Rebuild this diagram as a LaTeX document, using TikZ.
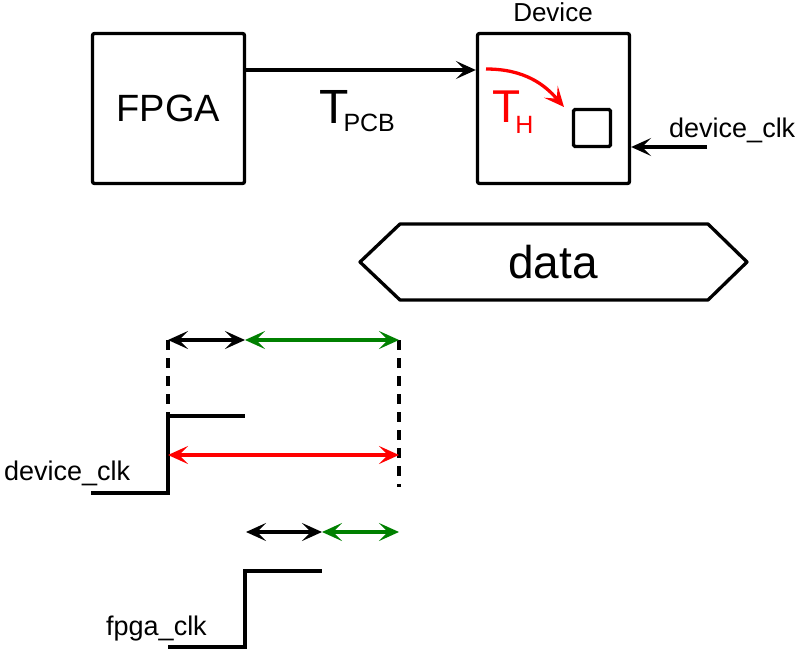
\documentclass[tikz,border=0pt]{standalone}
\usepackage{fontspec}
\setmainfont{Liberation Sans}
\usetikzlibrary{arrows.meta,calc}
\definecolor{dgreen}{RGB}{0,128,0}
\definecolor{pred}{RGB}{255,0,0}
\tikzset{
  wire/.style={line width=3.3pt},
  tip/.tip={Stealth[length=20pt,width=18pt,inset=9pt]},
  arr/.style={wire,-tip},
  darr/.style={wire,tip-tip},
  blockbox/.style={draw,line width=3.3pt,rounded corners=2pt,minimum width=152pt,minimum height=150pt,inner sep=0pt},
  dashline/.style={line width=3.3pt,dash pattern=on 10pt off 8pt},
  lbl/.style={inner sep=0pt,font=\fontsize{27}{27}\selectfont},
}
\begin{document}
\begin{tikzpicture}[x=1pt,y=-1pt]
\useasboundingbox (0,0) rectangle (800,650);
% blocks
\node[blockbox] (fpga) at (168.5,108.5) {\fontsize{38}{38}\selectfont FPGA};
\node[blockbox] (dev) at (553.5,108.5) {};
\node[inner sep=0pt,anchor=base,font=\fontsize{26}{26}\selectfont] (devlbl) at (553,22) {Device};
\node[draw,line width=3.3pt,rounded corners=1.5pt,minimum size=37pt,inner sep=0pt] (ff) at (592,128) {};
% PCB path
\coordinate (py) at (0,70);
\draw[arr] (fpga.east |- py) -- (dev.west |- py);
\node[inner sep=0pt,anchor=base west] (tpcb) at (319,124) {\fontsize{48}{48}\selectfont T\kern-5pt\raisebox{-8pt}{\fontsize{25}{25}\selectfont PCB}};
% device_clk input
\coordinate (dclkin) at (707,147);
\draw[arr] (dclkin) -- (dev.east |- dclkin);
\node[lbl,anchor=base west] (dclklbl) at (669,138) {device\_clk};
% T_H
\coordinate (ths) at (486,69);
\coordinate (the) at (564,107);
\draw[arr,pred] (ths) .. controls (525,69) and (545,85) .. (the);
\node[inner sep=0pt,anchor=base west,text=pred] (th) at (492,123) {\fontsize{46}{46}\selectfont T\kern-5pt\raisebox{-10pt}{\fontsize{25}{25}\selectfont H}};
% data hexagon
\coordinate (h1) at (360,262);
\coordinate (h2) at (400,224);
\coordinate (h3) at (708,224);
\coordinate (h4) at (747,262);
\coordinate (h5) at (708,300);
\coordinate (h6) at (400,300);
\draw[wire,line join=round] (h1) -- (h2) -- (h3) -- (h4) -- (h5) -- (h6) -- cycle;
\node[inner sep=0pt] (data) at (553,262) {\fontsize{46}{46}\selectfont data};
% timing: device clock
\coordinate (a0) at (91,493);
\coordinate (a1) at (168,493);
\coordinate (a2) at (168,416);
\coordinate (a3) at (245,416);
\draw[wire,line join=miter] (a0) -- (a1) -- (a2) -- (a3);
\node[lbl,anchor=base west] (dlbl) at (4,480) {device\_clk};
% dashed guides
\coordinate (t1) at (168,340);
\coordinate (t2) at (245,340);
\coordinate (t3) at (399,340);
\coordinate (r1) at (168,455);
\coordinate (r2) at (399,455);
\coordinate (db) at (399,487);
\draw[dashline] (t1) -- (a2);
\draw[dashline] (t3) -- (db);
\draw[darr] (t1) -- (t2);
\draw[darr,dgreen] (t2) -- (t3);
\draw[darr,pred] (r1) -- (r2);
% timing: fpga clock
\coordinate (m1) at (246,532);
\coordinate (m2) at (322,532);
\coordinate (m3) at (399,532);
\draw[darr] (m1) -- (m2);
\draw[darr,dgreen] (m2) -- (m3);
\coordinate (b0) at (168,647);
\coordinate (b1) at (245,647);
\coordinate (b2) at (245,571);
\coordinate (b3) at (322,571);
\draw[wire,line join=miter] (b0) -- (b1) -- (b2) -- (b3);
\node[lbl,anchor=base west] (flbl) at (106,635) {fpga\_clk};
\end{tikzpicture}
\end{document}
